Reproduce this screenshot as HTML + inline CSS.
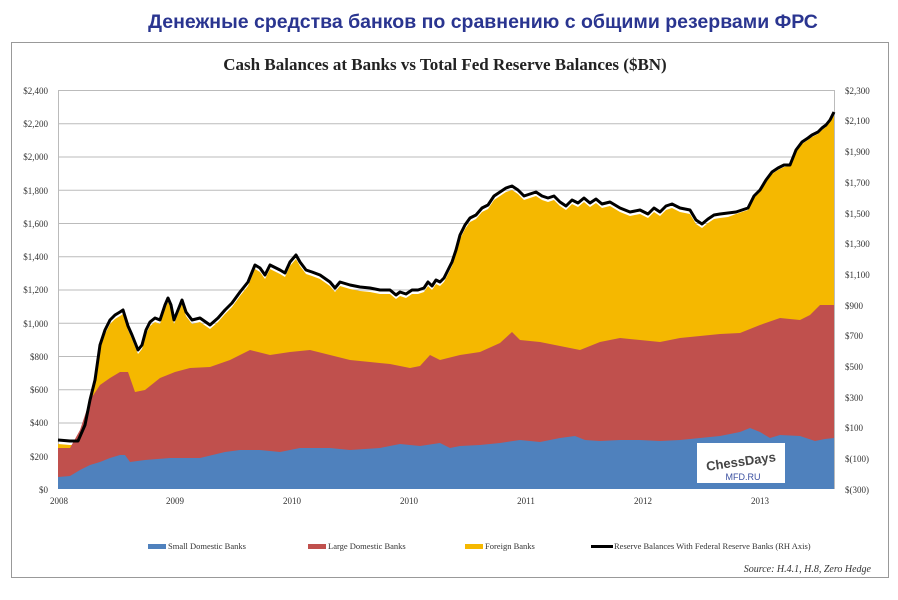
<!DOCTYPE html>
<html><head><meta charset="utf-8"><style>
body{margin:0;width:898px;height:595px;background:#fff;overflow:hidden;font-family:"Liberation Serif",serif}
</style></head><body>
<svg width="898" height="595" xmlns="http://www.w3.org/2000/svg">
<text x="483" y="28" text-anchor="middle" font-family="Liberation Sans, sans-serif" font-weight="bold" font-size="19.5" fill="#2a3590">Денежные средства банков по сравнению с общими резервами ФРС</text>
<rect x="11.5" y="42.5" width="877" height="535" fill="#fff" stroke="#999"/>
<text x="445" y="70" text-anchor="middle" font-size="17" font-weight="bold" fill="#222">Cash Balances at Banks vs Total Fed Reserve Balances ($BN)</text>
<g stroke="#bbb" stroke-width="1">
<line x1="58" x2="834" y1="90.5" y2="90.5"/><line x1="58" x2="834" y1="123.75" y2="123.75"/><line x1="58" x2="834" y1="157" y2="157"/><line x1="58" x2="834" y1="190.25" y2="190.25"/><line x1="58" x2="834" y1="223.5" y2="223.5"/><line x1="58" x2="834" y1="256.75" y2="256.75"/><line x1="58" x2="834" y1="290" y2="290"/><line x1="58" x2="834" y1="323.25" y2="323.25"/><line x1="58" x2="834" y1="356.5" y2="356.5"/><line x1="58" x2="834" y1="389.75" y2="389.75"/><line x1="58" x2="834" y1="423" y2="423"/><line x1="58" x2="834" y1="456.25" y2="456.25"/>
<line x1="58.5" x2="58.5" y1="90" y2="489"/><line x1="834.5" x2="834.5" y1="90" y2="489"/>
</g>
<g id="d">
<polygon fill="#f5b800" points="58,444 70,445 78,445 85,429 90,404 95,384 100,349 105,334 110,324 115,319 120,316 123,314 128,330 132,339 138,354 142,349 146,334 150,326 155,322 160,324 165,309 168,302 171,309 174,324 178,314 182,304 186,316 192,324 200,322 210,329 218,322 225,314 232,307 240,296 248,286 255,269 260,272 265,279 270,269 280,274 285,277 290,266 296,259 300,266 306,274 312,276 320,279 330,286 335,292 340,286 350,289 360,291 370,292 380,294 390,294 396,299 400,296 406,298 412,294 418,294 424,292 428,286 432,290 436,284 440,286 444,282 448,274 452,266 456,254 460,239 465,229 470,222 476,219 482,212 488,209 494,200 500,196 506,192 512,190 518,194 524,200 530,198 536,196 542,200 548,202 554,200 560,206 566,210 572,204 578,207 584,202 590,207 596,203 602,208 610,206 620,212 630,216 640,214 648,218 654,212 660,216 666,210 672,208 680,212 690,214 696,224 702,228 708,223 714,219 720,218 728,217 736,214 742,212 748,210 754,198 760,192 766,182 772,174 778,170 784,167 790,166 796,152 802,144 808,140 812,137 818,134 822,130 826,127 830,122 834,114 834,489 58,489"/>
<polygon fill="#c0504d" points="58,448 70,448 80,430 90,400 100,385 110,378 120,372 128,372 135,392 145,390 160,378 175,372 190,368 210,367 230,360 250,350 270,355 290,352 310,350 330,355 350,360 370,362 390,364 410,368 420,366 430,355 440,360 460,355 480,352 500,343 512,332 520,340 540,342 560,346 580,350 600,342 620,338 640,340 660,342 680,338 700,336 720,334 740,333 760,325 780,318 800,320 810,315 820,305 834,305 834,489 58,489"/>
<polygon fill="#4f81bd" points="58,477 70,476 80,470 90,465 100,462 110,458 120,455 125,455 130,462 145,460 170,458 200,458 225,452 240,450 260,450 280,452 300,448 330,448 350,450 380,448 400,444 420,446 440,443 450,448 460,446 480,445 500,443 520,440 540,442 560,438 575,436 585,440 600,441 620,440 640,440 660,441 680,440 700,438 720,436 740,432 750,428 760,432 770,438 780,435 800,436 815,441 825,439 834,438 834,489 58,489"/>
<polyline fill="none" stroke="#000" stroke-width="3" stroke-linejoin="round" points="58,440 70,441 78,441 85,425 90,400 95,380 100,345 105,330 110,320 115,315 120,312 123,310 128,326 132,335 138,350 142,345 146,330 150,322 155,318 160,320 165,305 168,298 171,305 174,320 178,310 182,300 186,312 192,320 200,318 210,325 218,318 225,310 232,303 240,292 248,282 255,265 260,268 265,275 270,265 280,270 285,273 290,262 296,255 300,262 306,270 312,272 320,275 330,282 335,288 340,282 350,285 360,287 370,288 380,290 390,290 396,295 400,292 406,294 412,290 418,290 424,288 428,282 432,286 436,280 440,282 444,278 448,270 452,262 456,250 460,235 465,225 470,218 476,215 482,208 488,205 494,196 500,192 506,188 512,186 518,190 524,196 530,194 536,192 542,196 548,198 554,196 560,202 566,206 572,200 578,203 584,198 590,203 596,199 602,204 610,202 620,208 630,212 640,210 648,214 654,208 660,212 666,206 672,204 680,208 690,210 696,220 702,224 708,219 714,215 720,214 728,213 736,212 742,210 748,208 754,196 760,190 766,180 772,172 778,168 784,165 790,165 796,150 802,142 808,138 812,135 818,132 822,128 826,125 830,120 834,112"/>
</g>
<rect x="697" y="443" width="88" height="40" fill="#fff"/>
<text x="741" y="466" text-anchor="middle" font-family="Liberation Sans, sans-serif" font-weight="bold" font-size="13" fill="#444" transform="rotate(-8 741 462)">ChessDays</text>
<text x="743" y="480" text-anchor="middle" font-family="Liberation Sans, sans-serif" font-size="9" fill="#3a4fa0">MFD.RU</text>
<g font-size="9" fill="#333" text-anchor="end">
<text x="48" y="94">$2,400</text><text x="48" y="127">$2,200</text><text x="48" y="160">$2,000</text><text x="48" y="194">$1,800</text><text x="48" y="227">$1,600</text><text x="48" y="260">$1,400</text><text x="48" y="293">$1,200</text><text x="48" y="327">$1,000</text><text x="48" y="360">$800</text><text x="48" y="393">$600</text><text x="48" y="426">$400</text><text x="48" y="460">$200</text><text x="48" y="493">$0</text>
</g>
<g font-size="9" fill="#333" text-anchor="start">
<text x="845" y="94">$2,300</text><text x="845" y="124">$2,100</text><text x="845" y="155">$1,900</text><text x="845" y="186">$1,700</text><text x="845" y="217">$1,500</text><text x="845" y="247">$1,300</text><text x="845" y="278">$1,100</text><text x="845" y="309">$900</text><text x="845" y="339">$700</text><text x="845" y="370">$500</text><text x="845" y="401">$300</text><text x="845" y="431">$100</text><text x="845" y="462">$(100)</text><text x="845" y="493">$(300)</text>
</g>
<g font-size="9" fill="#333" text-anchor="middle">
<text x="59" y="504">2008</text><text x="175" y="504">2009</text><text x="292" y="504">2010</text><text x="409" y="504">2010</text><text x="526" y="504">2011</text><text x="643" y="504">2012</text><text x="760" y="504">2013</text>
</g>
<g font-size="8.5" fill="#333">
<rect x="148" y="544" width="18" height="5" fill="#4f81bd"/><text x="168" y="549">Small Domestic Banks</text>
<rect x="308" y="544" width="18" height="5" fill="#c0504d"/><text x="328" y="549">Large Domestic Banks</text>
<rect x="465" y="544" width="18" height="5" fill="#f5b800"/><text x="485" y="549">Foreign Banks</text>
<rect x="591" y="545" width="22" height="3" fill="#000"/><text x="614" y="549">Reserve Balances With Federal Reserve Banks (RH Axis)</text>
<text x="871" y="572" text-anchor="end" font-style="italic" font-size="10">Source: H.4.1, H.8, Zero Hedge</text>
</g>
</svg>
</body></html>
